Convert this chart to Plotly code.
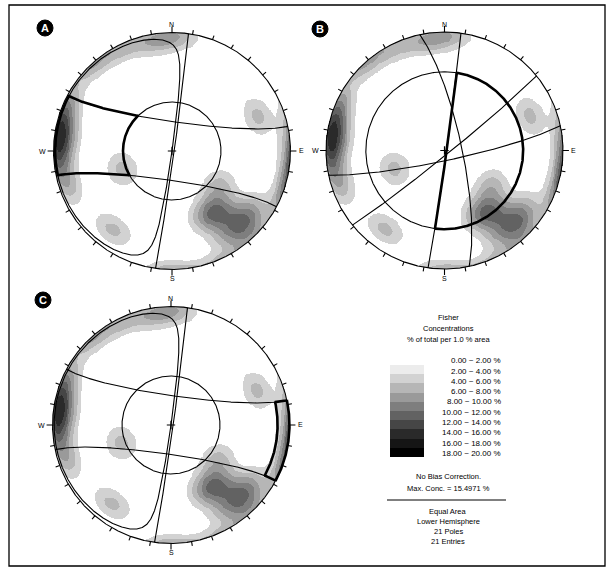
import numpy as np
import plotly.graph_objects as go

FIG_W, FIG_H = 611, 574

# ---------------- data ----------------
# 21 poles (trend, plunge in degrees), lower hemisphere
pole_trend = [352, 2, 318, 335, 294, 286, 279, 271, 264, 277, 252,
              68, 250, 217, 146, 151, 127, 128, 136, 145, 138]
pole_plunge = [8, 3, 2, 4, 3, 5, 2, 6, 3, 11, 9,
               23, 53, 18, 41, 36, 49, 18, 12, 18, 30]

slope_dipdir = 98          # slope face dip direction (deg)
slope_dip = 88.5           # slope face dip (deg)
friction_angle = 34        # deg
lateral_limit = 20         # deg
toppling_limit_plunge = 11 # deg

# joint-set planes drawn in panel B
joint_dipdir = [78, 141, 168]
joint_dip = [78, 87, 83]

fisher_k = 49

conc_lower = [0, 2, 4, 6, 8, 10, 12, 14, 16, 18]
conc_upper = [2, 4, 6, 8, 10, 12, 14, 16, 18, 20]
conc_colors = ['#ececec', '#d2d2d2', '#b6b6b6', '#9a9a9a', '#7e7e7e',
               '#626262', '#464646', '#2a2a2a', '#151515', '#000000']

panel_labels = ['A', 'B', 'C']
cardinal_labels = ['N', 'E', 'S', 'W']
cardinal_azimuths = [0, 90, 180, 270]

legend_title = ['Fisher', 'Concentrations', '% of total per 1.0 % area']
legend_notes = ['No Bias Correction.', 'Max. Conc. = 15.4971 %']
legend_footer = ['Equal Area', 'Lower Hemisphere', '21 Poles', '21 Entries']

# ---------------- layout constants (pixels) ----------------
NET_R = 118.5
PANELS = [dict(cx=172, cy=151, lx=45, ly=28),
          dict(cx=444.5, cy=150.5, lx=320, ly=29),
          dict(cx=171, cy=425, lx=43, ly=300)]
L = 1.15
FONT = 'Liberation Sans, Arial, sans-serif'


def px(x):
    return x / FIG_W


def py(y):
    return 1 - y / FIG_H


# ---------------- stereonet geometry ----------------
def direction(trend, plunge):
    t = np.radians(np.asarray(trend, float))
    p = np.radians(np.asarray(plunge, float))
    return np.array([np.sin(t) * np.cos(p), np.cos(t) * np.cos(p), np.sin(p)])


def project(v):
    e, n, d = v
    f = 1.0 / np.sqrt(np.clip(1 + d, 1e-12, None))
    x, y = e * f, n * f
    bad = d < -1e-9
    return np.where(bad, np.nan, x), np.where(bad, np.nan, y)


def great_circle(dipdir, dip, n=721):
    s = direction(dipdir - 90, 0)
    dv = direction(dipdir, dip)
    lam = np.linspace(0, np.pi, n)
    return np.outer(s, np.cos(lam)) + np.outer(dv, np.sin(lam))


def small_circle(trend, plunge, angle, n=1441):
    a = direction(trend, plunge)
    tmp = np.array([0, 0, 1.0]) if abs(a[2]) < 0.9 else np.array([1.0, 0, 0])
    u = np.cross(a, tmp)
    u /= np.linalg.norm(u)
    w = np.cross(a, u)
    ph = np.linspace(0, 2 * np.pi, n)
    al = np.radians(angle)
    return (np.cos(al) * a[:, None]
            + np.sin(al) * (np.outer(u, np.cos(ph)) + np.outer(w, np.sin(ph))))


def daylight_envelope(dipdir, dip, n=4001):
    u = np.linspace(-1, 1, n)
    delta = 90 * np.sin(u * np.pi / 2)
    app = np.degrees(np.arctan(np.tan(np.radians(dip)) * np.cos(np.radians(delta))))
    return direction(dipdir + delta + 180, 90 - app)


def trend_plunge(v):
    e, n, d = v
    t = np.degrees(np.arctan2(e, n)) % 360
    p = np.degrees(np.arcsin(np.clip(d, -1, 1)))
    return t, p


STRIKE = direction(slope_dipdir - 90, 0)
DIPH = direction(slope_dipdir, 0)
TOL = 0.4  # degrees


def in_band(v):
    ang = np.degrees(np.arcsin(np.clip(np.abs(STRIKE @ v), 0, 1)))
    return ang <= lateral_limit + TOL


def pole_outside_friction(v):
    t, p = trend_plunge(v)
    return (90 - p) >= friction_angle - TOL


def pole_daylight(v):
    t, p = trend_plunge(v)
    c = np.cos(np.radians(t + 180 - slope_dipdir))
    lim = np.degrees(np.arctan(np.tan(np.radians(slope_dip)) * np.clip(c, 0, None)))
    return (c > 0) & ((90 - p) <= lim + TOL)


def line_steeper_than_friction(v):
    t, p = trend_plunge(v)
    return p >= friction_angle - TOL


def line_daylight(v):
    t, p = trend_plunge(v)
    c = np.cos(np.radians(t - slope_dipdir))
    lim = np.degrees(np.arctan(np.tan(np.radians(slope_dip)) * np.clip(c, 0, None)))
    return (c > 0) & (p <= lim + TOL)


def pole_toppling(v):
    t, p = trend_plunge(v)
    return p <= toppling_limit_plunge + TOL


def pole_east(v):
    return (DIPH @ v) >= -1e-6


# ---------------- density (Fisher kernel, % of total per 1 % of sphere area) ----------------
g = np.linspace(-1, 1, 261)
GX, GY = np.meshgrid(g, g)
R2 = GX ** 2 + GY ** 2
inside = R2 <= 1.0
sq = np.sqrt(np.clip(2 - R2, 0, None))
VE, VN, VD = GX * sq, GY * sq, 1 - R2
P = direction(pole_trend, pole_plunge)
dots = VE[..., None] * P[0] + VN[..., None] * P[1] + VD[..., None] * P[2]
npole = len(pole_trend)
dens = (100.0 / npole) * 0.02 * fisher_k * np.exp(fisher_k * (np.abs(dots) - 1)).sum(axis=-1)
zplot = np.where(inside & (dens >= 2), np.minimum(dens, 19.99), np.nan)

cs = []
for i, c in enumerate(conc_colors):
    cs.append([i / 10, c])
    cs.append([(i + 1) / 10, c])

fig = go.Figure()
THIN = 1.1
THICK = 2.6


def add_line(v_or_xy, ax, width=THIN, mask=None, is_xy=False):
    if is_xy:
        x, y = v_or_xy
    else:
        x, y = project(v_or_xy)
    if mask is not None:
        x = np.where(mask, x, np.nan)
        y = np.where(mask, y, np.nan)
    fig.add_trace(go.Scatter(x=x, y=y, mode='lines', xaxis='x' + ax, yaxis='y' + ax,
                             line=dict(color='black', width=width), hoverinfo='skip',
                             showlegend=False, cliponaxis=False))


primitive = small_circle(0, 90, 90)
friction_pole_circle = small_circle(0, 90, friction_angle)
friction_line_circle = small_circle(0, 90, 90 - friction_angle)
toppling_circle = small_circle(0, 90, 90 - toppling_limit_plunge)
lat_n = small_circle(slope_dipdir - 90, 0, 90 - lateral_limit)
lat_s = small_circle(slope_dipdir + 90, 0, 90 - lateral_limit)
slope_gc = great_circle(slope_dipdir, slope_dip)
envelope = daylight_envelope(slope_dipdir, slope_dip)

for k, pan in enumerate(PANELS):
    ax = '' if k == 0 else str(k + 1)
    fig.add_trace(go.Heatmap(x=g, y=g, z=zplot, zmin=0, zmax=20, colorscale=cs,
                             showscale=False, hoverinfo='skip', zsmooth=False,
                             xaxis='x' + ax, yaxis='y' + ax))
    add_line(primitive, ax)
    tx, ty = [], []
    for az in range(0, 360, 10):
        a = np.radians(az)
        ln = 0.05 if az in cardinal_azimuths else 0.036
        tx += [np.sin(a), (1 + ln) * np.sin(a), None]
        ty += [np.cos(a), (1 + ln) * np.cos(a), None]
    add_line((np.array(tx, dtype=float), np.array(ty, dtype=float)), ax, is_xy=True)
    fig.add_trace(go.Scatter(x=[0], y=[0], mode='markers', xaxis='x' + ax, yaxis='y' + ax,
                             marker=dict(symbol='cross-thin', size=6,
                                         line=dict(color='black', width=1.2)),
                             hoverinfo='skip', showlegend=False))

    add_line(slope_gc, ax)
    if k in (0, 2):
        add_line(envelope, ax)
        add_line(friction_pole_circle, ax)
        add_line(lat_n, ax)
        add_line(lat_s, ax)
    if k == 0:   # planar sliding
        add_line(friction_pole_circle, ax, THICK, in_band(friction_pole_circle) & pole_daylight(friction_pole_circle))
        for lat in (lat_n, lat_s):
            add_line(lat, ax, THICK, pole_outside_friction(lat) & pole_daylight(lat))
        add_line(envelope, ax, THICK, pole_outside_friction(envelope) & in_band(envelope))
    if k == 1:   # wedge sliding
        for dd, dp in zip(joint_dipdir, joint_dip):
            add_line(great_circle(dd, dp), ax)
        add_line(friction_line_circle, ax)
        add_line(slope_gc, ax, THICK, line_steeper_than_friction(slope_gc))
        add_line(friction_line_circle, ax, THICK, line_daylight(friction_line_circle))
    if k == 2:   # flexural toppling
        add_line(toppling_circle, ax, THICK, in_band(toppling_circle) & pole_east(toppling_circle))
        for lat in (lat_n, lat_s):
            add_line(lat, ax, THICK, pole_toppling(lat) & pole_east(lat))
        add_line(primitive, ax, THICK, in_band(primitive) & pole_east(primitive))

# legend bar
fig.add_trace(go.Heatmap(z=[[i] for i in range(10)], x=[0], y=list(range(10)),
                         zmin=0, zmax=10, colorscale=cs, showscale=False,
                         hoverinfo='skip', xaxis='x4', yaxis='y4'))

layout = dict(width=FIG_W, height=FIG_H, autosize=False,
              margin=dict(l=0, r=0, t=0, b=0),
              paper_bgcolor='white', plot_bgcolor='rgba(0,0,0,0)',
              showlegend=False)
annotations = []
shapes = []
for k, pan in enumerate(PANELS):
    sfx = '' if k == 0 else str(k + 1)
    cx, cy = pan['cx'], pan['cy']
    layout['xaxis' + sfx] = dict(domain=[px(cx - L * NET_R), px(cx + L * NET_R)],
                                 range=[-L, L], visible=False, fixedrange=True,
                                 anchor='y' + sfx)
    layout['yaxis' + sfx] = dict(domain=[py(cy + L * NET_R), py(cy - L * NET_R)],
                                 range=[-L, L], visible=False, fixedrange=True,
                                 anchor='x' + sfx)
    for lab, az in zip(cardinal_labels, cardinal_azimuths):
        a = np.radians(az)
        rr = {'N': 1.065, 'S': 1.08, 'E': 1.09, 'W': 1.09}[lab]
        annotations.append(dict(x=rr * np.sin(a), y=rr * np.cos(a), xref='x' + sfx, yref='y' + sfx,
                                text=lab, showarrow=False,
                                font=dict(family=FONT, size=7, color='black'),
                                xanchor='center', yanchor='middle'))
    rb = 8
    shapes.append(dict(type='circle', xref='paper', yref='paper',
                       x0=px(pan['lx'] - rb), x1=px(pan['lx'] + rb),
                       y0=py(pan['ly'] + rb), y1=py(pan['ly'] - rb),
                       fillcolor='black', line=dict(color='black', width=1)))
    annotations.append(dict(x=px(pan['lx']), y=py(pan['ly']), xref='paper', yref='paper',
                            text='<b>' + panel_labels[k] + '</b>', showarrow=False,
                            font=dict(family=FONT, size=11, color='white'),
                            xanchor='center', yanchor='middle'))

layout['xaxis4'] = dict(domain=[px(390), px(424)], range=[-0.5, 0.5], visible=False,
                        fixedrange=True, anchor='y4')
layout['yaxis4'] = dict(domain=[py(457), py(365)], range=[9.5, -0.5], visible=False,
                        fixedrange=True, anchor='x4')

LX = 448
text_font = dict(family=FONT, size=7.5, color='black')
for i, t in enumerate(legend_title):
    annotations.append(dict(x=px(LX), y=py(317 + 11 * i), xref='paper', yref='paper', text=t,
                            showarrow=False, font=text_font, xanchor='center', yanchor='middle'))
for i, (lo, hi) in enumerate(zip(conc_lower, conc_upper)):
    annotations.append(dict(x=px(503), y=py(360.7 + 10.3 * i), xref='paper', yref='paper',
                            text=f'{lo:.2f} ~ {hi:.2f} %', showarrow=False,
                            font=dict(family=FONT, size=8, color='black'),
                            xanchor='right', yanchor='middle'))
for i, t in enumerate(legend_notes):
    annotations.append(dict(x=px(LX), y=py(477 + 11.5 * i), xref='paper', yref='paper', text=t,
                            showarrow=False, font=text_font, xanchor='center', yanchor='middle'))
for i, t in enumerate(legend_footer):
    annotations.append(dict(x=px(LX), y=py(511 + 10 * i), xref='paper', yref='paper', text=t,
                            showarrow=False, font=text_font, xanchor='center', yanchor='middle'))

shapes.append(dict(type='line', xref='paper', yref='paper', x0=px(387), x1=px(506),
                   y0=py(500), y1=py(500), line=dict(color='black', width=1)))
shapes.append(dict(type='rect', xref='paper', yref='paper', x0=px(9), x1=px(605),
                   y0=py(566), y1=py(5), line=dict(color='black', width=1.3)))

layout['annotations'] = annotations
layout['shapes'] = shapes
fig.update_layout(**layout)
fig.write_html('out.html', config={'displayModeBar': False},
               post_script="document.body.style.margin='0px';")
